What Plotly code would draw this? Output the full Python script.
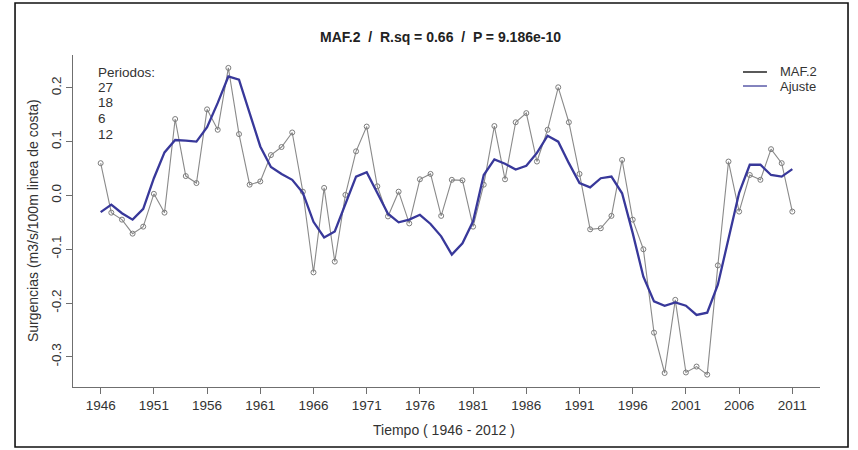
import plotly.graph_objects as go

# Annual series 1946-2011
years = list(range(1946, 2012))

maf2 = [
    0.060, -0.032, -0.045, -0.071, -0.058, 0.003, -0.032, 0.142, 0.036, 0.023,
    0.160, 0.122, 0.237, 0.114, 0.020, 0.026, 0.075, 0.090, 0.117, 0.007,
    -0.143, 0.014, -0.123, 0.001, 0.082, 0.128, 0.017, -0.039, 0.007, -0.052,
    0.030, 0.040, -0.038, 0.029, 0.028, -0.058, 0.020, 0.129, 0.030, 0.136,
    0.153, 0.063, 0.122, 0.201, 0.136, 0.040, -0.063, -0.061, -0.038, 0.066,
    -0.045, -0.100, -0.255, -0.330, -0.194, -0.329, -0.318, -0.333, -0.130, 0.063,
    -0.030, 0.038, 0.029, 0.086, 0.060, -0.030,
]

ajuste = [
    -0.031, -0.017, -0.033, -0.045, -0.025, 0.032, 0.080, 0.103, 0.102, 0.100,
    0.127, 0.172, 0.221, 0.215, 0.153, 0.091, 0.053, 0.040, 0.029, 0.005,
    -0.049, -0.078, -0.067, -0.017, 0.035, 0.043, 0.004, -0.034, -0.050, -0.045,
    -0.036, -0.053, -0.076, -0.110, -0.089, -0.048, 0.038, 0.067, 0.059, 0.048,
    0.055, 0.079, 0.111, 0.100, 0.060, 0.023, 0.015, 0.032, 0.035, 0.004,
    -0.070, -0.151, -0.197, -0.205, -0.199, -0.205, -0.222, -0.218, -0.166, -0.083,
    0.005, 0.057, 0.057, 0.038, 0.035, 0.049,
]

periodos = [27, 18, 6, 12]

x_ticks = list(range(1946, 2012, 5))
y_ticks = [-0.3, -0.2, -0.1, 0.0, 0.1, 0.2]
y_ticktext = ["-0.3", "-0.2", "-0.1", "0.0", "0.1", "0.2"]

title_text = "MAF.2  /  R.sq = 0.66  /  P = 9.186e-10"
x_title = "Tiempo ( 1946 - 2012 )"
y_title = "Surgencias (m3/s/100m linea de costa)"
legend_names = ["MAF.2", "Ajuste"]

FONT = "Liberation Sans, Arial, sans-serif"
TXT = "#333333"
GRAY = "#8a8a8a"
BLUE = "#38389a"

fig = go.Figure()

fig.add_trace(go.Scatter(
    x=years, y=maf2, mode="lines+markers", name=legend_names[0],
    line=dict(color=GRAY, width=1.1),
    marker=dict(symbol="circle-open", size=5, color="#7c7c7c", line=dict(width=1)),
    showlegend=False,
))
fig.add_trace(go.Scatter(
    x=years, y=ajuste, mode="lines", name=legend_names[1],
    line=dict(color=BLUE, width=2.3),
    showlegend=False,
))

axis_common = dict(
    showgrid=False, zeroline=False, showline=True, linecolor="#6f6f6f", linewidth=1,
    ticks="outside", ticklen=6, tickcolor="#6f6f6f", tickwidth=1,
    tickfont=dict(family=FONT, size=13.5, color=TXT), mirror=False,
)

fig.update_xaxes(range=[1943.4, 2013.6], tickvals=x_ticks, **axis_common)
fig.update_yaxes(range=[-0.356, 0.261], tickvals=y_ticks, ticktext=y_ticktext,
                 tickangle=-90, **axis_common)

annotations = [
    dict(text="<b>" + title_text + "</b>", x=0.4926, y=1.054, xref="paper", yref="paper",
         showarrow=False, font=dict(family=FONT, size=14, color="#222222"),
         xanchor="center", yanchor="middle"),
    dict(text=x_title, x=0.497, y=-0.1295, xref="paper", yref="paper",
         showarrow=False, font=dict(family=FONT, size=14, color=TXT),
         xanchor="center", yanchor="middle"),
    dict(text=y_title, x=-0.0535, y=0.5, xref="paper", yref="paper", textangle=-90,
         showarrow=False, font=dict(family=FONT, size=14, color=TXT),
         xanchor="center", yanchor="middle"),
]

# "Periodos:" block in the upper-left corner
period_lines = ["Periodos:"] + [str(p) for p in periodos]
period_y = [0.9467, 0.9027, 0.8563, 0.8093, 0.762]
for txt, yy in zip(period_lines, period_y):
    annotations.append(dict(text=txt, x=0.0308, y=yy, xref="paper", yref="paper",
                            showarrow=False, font=dict(family=FONT, size=13.5, color=TXT),
                            xanchor="left", yanchor="middle"))

# Legend drawn as line keys with labels
legend_colors = ["#222222", "#5a5aa8"]
legend_y = [0.9488, 0.9066]
shapes = []
for name, col, yy in zip(legend_names, legend_colors, legend_y):
    shapes.append(dict(type="line", xref="paper", yref="paper",
                       x0=0.8969, x1=0.929, y0=yy, y1=yy,
                       line=dict(color=col, width=1.5)))
    annotations.append(dict(text=name, x=0.9438, y=yy, xref="paper", yref="paper",
                            showarrow=False, font=dict(family=FONT, size=13, color=TXT),
                            xanchor="left", yanchor="middle"))

# Outer frame around the whole figure
shapes.append(dict(type="rect", xref="paper", yref="paper",
                   x0=-0.0776, x1=1.0375, y0=-0.1807, y1=1.1566,
                   line=dict(color="#111111", width=1.6), layer="above"))

fig.update_layout(
    width=858, height=450,
    margin=dict(l=73, r=38, t=55, b=63),
    paper_bgcolor="white", plot_bgcolor="white",
    font=dict(family=FONT, color=TXT),
    annotations=annotations, shapes=shapes,
)

fig.write_html("out.html")
